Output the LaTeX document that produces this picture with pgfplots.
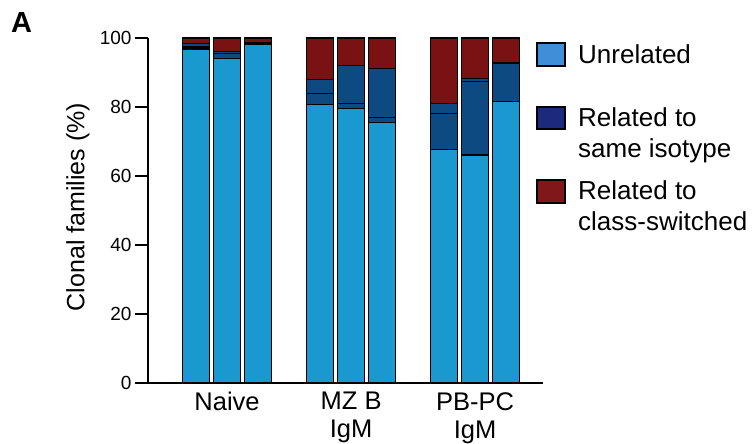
\documentclass[border=0pt]{standalone}
\usepackage{fontspec}
\setmainfont{Liberation Sans}
\usepackage{pgfplots}
\pgfplotsset{compat=1.18}
\definecolor{barU}{HTML}{1A99D1}
\definecolor{barS}{HTML}{0E4A82}
\definecolor{barR}{HTML}{7A1214}
\definecolor{legU}{HTML}{408ED8}
\definecolor{legS}{HTML}{1C2A7E}
\definecolor{legR}{HTML}{80171A}
\pgfplotstableread{
x U s1 s2 R
0 96.8 0.6 0.9 1.7
1 94.0 1.5 0.5 4.0
2 98.0 0.3 0.3 1.4
4 80.6 3.4 4.0 12.0
5 79.6 1.5 11.0 7.9
6 75.5 1.5 14.2 8.8
8 67.8 10.4 2.9 18.9
9 66.1 21.2 0.9 11.8
10 81.6 11.0 0.4 7.0
}\datatable
\begin{document}
\begin{tikzpicture}
\begin{axis}[
  name=ax,
  scale only axis,
  width=395pt, height=345pt,
  xmin=-1.55, xmax=11.19,
  ymin=0, ymax=100,
  ybar stacked,
  bar width=0.87,
  axis x line*=bottom, axis y line*=left,
  axis line style={black, line width=1.3pt},
  ytick={0,20,40,60,80,100},
  xtick={1,5,9},
  xticklabels={Naive, MZ B\\IgM, PB-PC\\IgM},
  x tick label style={font=\fontsize{25.5}{28}\selectfont, align=center, inner sep=0pt, anchor=north, yshift=4pt},
  y tick label style={font=\fontsize{19}{22}\selectfont},
  /pgf/number format/assume math mode=true,
  tick align=outside,
  major tick length=13pt,
  y tick style={black, line width=1.3pt},
  x tick style={draw=none},
  every axis y label/.style={at={(rel axis cs:0,0.51)}, shift={(-70pt,0pt)}, rotate=90, anchor=center, font=\fontsize{25}{30}\selectfont},
  ylabel={Clonal families (\%)},
  every axis plot/.append style={draw=black, line width=1.1pt},
  clip=false,
]
\addplot[fill=barU] table[x=x, y=U] {\datatable};
\addplot[fill=barS] table[x=x, y=s1] {\datatable};
\addplot[fill=barS] table[x=x, y=s2] {\datatable};
\addplot[fill=barR] table[x=x, y=R] {\datatable};
\node[anchor=base west, inner sep=0pt, font=\fontsize{29}{32}\selectfont\bfseries] at ([shift={(-137pt,5pt)}]rel axis cs:0,1) {A};
\end{axis}
% legend
\begin{scope}[shift={(ax.north west)}]
  \draw[fill=legU, line width=1.5pt] (389pt,-5pt) rectangle (417pt,-28pt);
  \draw[fill=legS, line width=1.5pt] (389pt,-69pt) rectangle (417pt,-91pt);
  \draw[fill=legR, line width=1.5pt] (389pt,-142pt) rectangle (417pt,-165pt);
  \node[anchor=base west, inner sep=0pt, font=\fontsize{26}{31}\selectfont] at (430pt,-26pt) {Unrelated};
  \node[anchor=base west, inner sep=0pt, font=\fontsize{26}{31}\selectfont] at (430pt,-89pt) {\vtop{\hbox{Related to}\hbox{same isotype}}};
  \node[anchor=base west, inner sep=0pt, font=\fontsize{26}{31}\selectfont] at (430pt,-162pt) {\vtop{\hbox{Related to}\hbox{class-switched}}};
\end{scope}
\pgfresetboundingbox
\path[use as bounding box] ([shift={(-148pt,-61pt)}]ax.south west) rectangle ([shift={(209pt,38pt)}]ax.north east);
\end{tikzpicture}
\end{document}
